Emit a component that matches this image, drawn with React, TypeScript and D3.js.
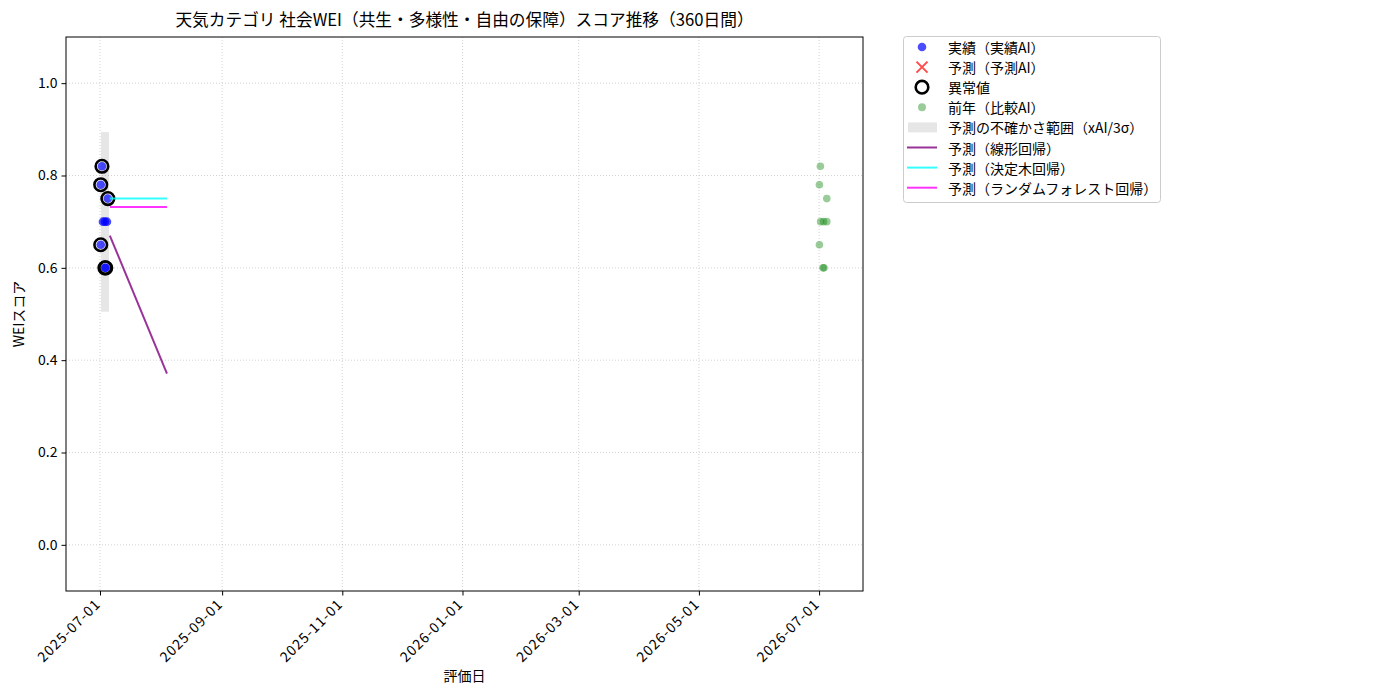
import React, { useEffect, useRef } from 'react';
import * as d3 from 'd3';

// actual scores (blue) and which of them are outliers
const actualDates = [
  '2025-07-01T09:00', '2025-07-01T09:00', '2025-07-02T00:00', '2025-07-02T12:00',
  '2025-07-03T12:00', '2025-07-04T13:00', '2025-07-03T12:00', '2025-07-03T22:00',
  '2025-07-05T00:00',
];
const actualValues = [0.78, 0.65, 0.82, 0.7, 0.7, 0.7, 0.6, 0.6, 0.75];
const outlierDates = [
  '2025-07-01T09:00', '2025-07-01T09:00', '2025-07-02T00:00',
  '2025-07-03T12:00', '2025-07-03T22:00', '2025-07-05T00:00',
];
const outlierValues = [0.78, 0.65, 0.82, 0.6, 0.6, 0.75];

// previous year (green)
const prevDates = [
  '2026-07-01T04:00', '2026-07-01T04:00', '2026-07-01T16:00', '2026-07-01T19:00',
  '2026-07-03T07:00', '2026-07-04T22:00', '2026-07-03T00:00', '2026-07-03T12:00',
  '2026-07-04T22:00',
];
const prevValues = [0.78, 0.65, 0.82, 0.7, 0.7, 0.7, 0.6, 0.6, 0.75];

// uncertainty band
const bandDates = ['2025-07-01T12:00', '2025-07-05T14:00'];
const bandLower = 0.505;
const bandUpper = 0.894;

// forecasts
const forecastDates = ['2025-07-06T00:00', '2025-08-04T00:00'];
const linearValues = [0.67, 0.371];
const treeValues = [0.75, 0.75];
const forestValues = [0.732, 0.732];

const xDomain = ['2025-06-13T18:00', '2026-07-23T07:00'];
const xTickLabels = ['2025-07-01', '2025-09-01', '2025-11-01', '2026-01-01', '2026-03-01', '2026-05-01', '2026-07-01'];
const yTicks = [0.0, 0.2, 0.4, 0.6, 0.8, 1.0];

const legendItems = [
  { kind: 'dot', color: 'blue', opacity: 0.7, label: '実績（実績AI）' },
  { kind: 'x', color: 'red', opacity: 0.7, label: '予測（予測AI）' },
  { kind: 'ring', color: 'black', opacity: 1, label: '異常値' },
  { kind: 'dot', color: 'green', opacity: 0.4, label: '前年（比較AI）' },
  { kind: 'patch', color: 'gray', opacity: 0.2, label: '予測の不確かさ範囲（xAI/3σ）' },
  { kind: 'line', color: 'purple', opacity: 0.8, label: '予測（線形回帰）' },
  { kind: 'line', color: 'cyan', opacity: 0.8, label: '予測（決定木回帰）' },
  { kind: 'line', color: 'magenta', opacity: 0.8, label: '予測（ランダムフォレスト回帰）' },
];

const FONT = '"Noto Sans CJK JP", "Noto Sans", sans-serif';
const FS = 14;

const App: React.FC = () => {
  const ref = useRef<SVGSVGElement | null>(null);

  useEffect(() => {
    const left = 66, right = 863, top = 37, bottom = 591;
    const parse = (s: string) => new Date(s);

    const svg = d3.select(ref.current);
    svg.selectAll('*').remove();
    svg.style('font-family', FONT);

    const x = d3.scaleTime().domain(xDomain.map(parse)).range([left, right]);
    const y = d3.scaleLinear().domain([-0.1, 1.1]).range([bottom, top]);

    // Grid
    const grid = svg.append('g');
    xTickLabels.forEach((t) => {
      grid.append('line')
        .attr('x1', x(parse(t))).attr('x2', x(parse(t)))
        .attr('y1', top).attr('y2', bottom)
        .attr('stroke', '#b0b0b0').attr('stroke-width', 0.8)
        .attr('stroke-dasharray', '1,2').attr('opacity', 0.7);
    });
    yTicks.forEach((t) => {
      grid.append('line')
        .attr('x1', left).attr('x2', right)
        .attr('y1', y(t)).attr('y2', y(t))
        .attr('stroke', '#b0b0b0').attr('stroke-width', 0.8)
        .attr('stroke-dasharray', '1,2').attr('opacity', 0.7);
    });

    // Uncertainty band
    svg.append('rect')
      .attr('x', x(parse(bandDates[0])))
      .attr('width', x(parse(bandDates[1])) - x(parse(bandDates[0])))
      .attr('y', y(bandUpper))
      .attr('height', y(bandLower) - y(bandUpper))
      .attr('fill', 'gray').attr('opacity', 0.2);

    // Actual points
    svg.append('g').selectAll('circle')
      .data(actualDates.map((d, i) => ({ d: parse(d), v: actualValues[i] })))
      .enter().append('circle')
      .attr('cx', (p) => x(p.d)).attr('cy', (p) => y(p.v))
      .attr('r', 4.3).attr('fill', 'blue').attr('fill-opacity', 0.7);

    // Outlier rings
    svg.append('g').selectAll('circle')
      .data(outlierDates.map((d, i) => ({ d: parse(d), v: outlierValues[i] })))
      .enter().append('circle')
      .attr('cx', (p) => x(p.d)).attr('cy', (p) => y(p.v))
      .attr('r', 6.3).attr('fill', 'none')
      .attr('stroke', 'black').attr('stroke-width', 2.6);

    // Previous year
    svg.append('g').selectAll('circle')
      .data(prevDates.map((d, i) => ({ d: parse(d), v: prevValues[i] })))
      .enter().append('circle')
      .attr('cx', (p) => x(p.d)).attr('cy', (p) => y(p.v))
      .attr('r', 3.8).attr('fill', 'green').attr('fill-opacity', 0.4);

    // Forecast lines
    const line = d3.line<{ d: Date; v: number }>().x((p) => x(p.d)).y((p) => y(p.v));
    const series: [number[], string][] = [
      [linearValues, 'purple'],
      [treeValues, 'cyan'],
      [forestValues, 'magenta'],
    ];
    series.forEach(([vals, color]) => {
      svg.append('path')
        .datum(forecastDates.map((d, i) => ({ d: parse(d), v: vals[i] })))
        .attr('d', line)
        .attr('fill', 'none').attr('stroke', color)
        .attr('stroke-width', 2).attr('stroke-opacity', 0.8);
    });

    // Frame
    svg.append('rect')
      .attr('x', left).attr('y', top)
      .attr('width', right - left).attr('height', bottom - top)
      .attr('fill', 'none').attr('stroke', 'black').attr('stroke-width', 1);

    // Axes
    const xAxis = d3.axisBottom(x)
      .tickValues(xTickLabels.map(parse))
      .tickFormat((d) => d3.timeFormat('%Y-%m-%d')(d as Date))
      .tickSize(4.5).tickPadding(3);
    const gx = svg.append('g').attr('transform', `translate(0,${bottom})`).call(xAxis);
    gx.select('.domain').remove();
    gx.selectAll('text')
      .attr('font-size', FS).attr('font-family', FONT).attr('fill', '#000')
      .attr('letter-spacing', 1)
      .attr('text-anchor', 'end')
      .attr('dy', null)
      .attr('y', null)
      .attr('transform', 'translate(1,14) rotate(-45)');

    const yAxis = d3.axisLeft(y).tickValues(yTicks).tickFormat(d3.format('.1f')).tickSize(4.5).tickPadding(4);
    const gy = svg.append('g').attr('transform', `translate(${left},0)`).call(yAxis);
    gy.select('.domain').remove();
    gy.selectAll('text').attr('font-size', FS).attr('font-family', FONT).attr('fill', '#000');

    // Labels
    svg.append('text')
      .attr('x', (left + right) / 2).attr('y', 26)
      .attr('text-anchor', 'middle').attr('font-size', 16.7)
      .text('天気カテゴリ 社会WEI（共生・多様性・自由の保障）スコア推移（360日間）');
    svg.append('text')
      .attr('x', (left + right) / 2).attr('y', 681)
      .attr('text-anchor', 'middle').attr('font-size', FS)
      .text('評価日');
    svg.append('text')
      .attr('transform', `translate(24,${(top + bottom) / 2}) rotate(-90)`)
      .attr('text-anchor', 'middle').attr('font-size', FS)
      .text('WEIスコア');

    // Legend
    const lg = svg.append('g');
    lg.append('rect')
      .attr('x', 903.5).attr('y', 36.5).attr('width', 257).attr('height', 166)
      .attr('rx', 3).attr('fill', 'white').attr('stroke', '#cccccc').attr('stroke-width', 1);
    legendItems.forEach((item, i) => {
      const cy = 47 + i * 20.1;
      const cx = 922;
      if (item.kind === 'dot') {
        lg.append('circle').attr('cx', cx).attr('cy', cy)
          .attr('r', item.color === 'green' ? 4 : 4.3)
          .attr('fill', item.color).attr('fill-opacity', item.opacity);
      } else if (item.kind === 'x') {
        const s = 5.5;
        lg.append('path')
          .attr('d', `M${cx - s},${cy - s}L${cx + s},${cy + s}M${cx - s},${cy + s}L${cx + s},${cy - s}`)
          .attr('stroke', item.color).attr('stroke-opacity', item.opacity).attr('stroke-width', 2);
      } else if (item.kind === 'ring') {
        lg.append('circle').attr('cx', cx).attr('cy', cy).attr('r', 6.3)
          .attr('fill', 'none').attr('stroke', 'black').attr('stroke-width', 2.6);
      } else if (item.kind === 'patch') {
        lg.append('rect').attr('x', 908).attr('y', cy - 5).attr('width', 29).attr('height', 10)
          .attr('fill', item.color).attr('opacity', item.opacity);
      } else {
        lg.append('line').attr('x1', 907).attr('x2', 937).attr('y1', cy).attr('y2', cy)
          .attr('stroke', item.color).attr('stroke-opacity', item.opacity).attr('stroke-width', 2);
      }
      lg.append('text').attr('x', 948).attr('y', cy)
        .attr('dominant-baseline', 'central').attr('font-size', FS)
        .text(item.label);
    });
  }, []);

  return (
    <svg
      ref={ref}
      width={1400}
      height={700}
      style={{ position: 'absolute', top: 0, left: 0, background: 'white' }}
    />
  );
};

export default App;
